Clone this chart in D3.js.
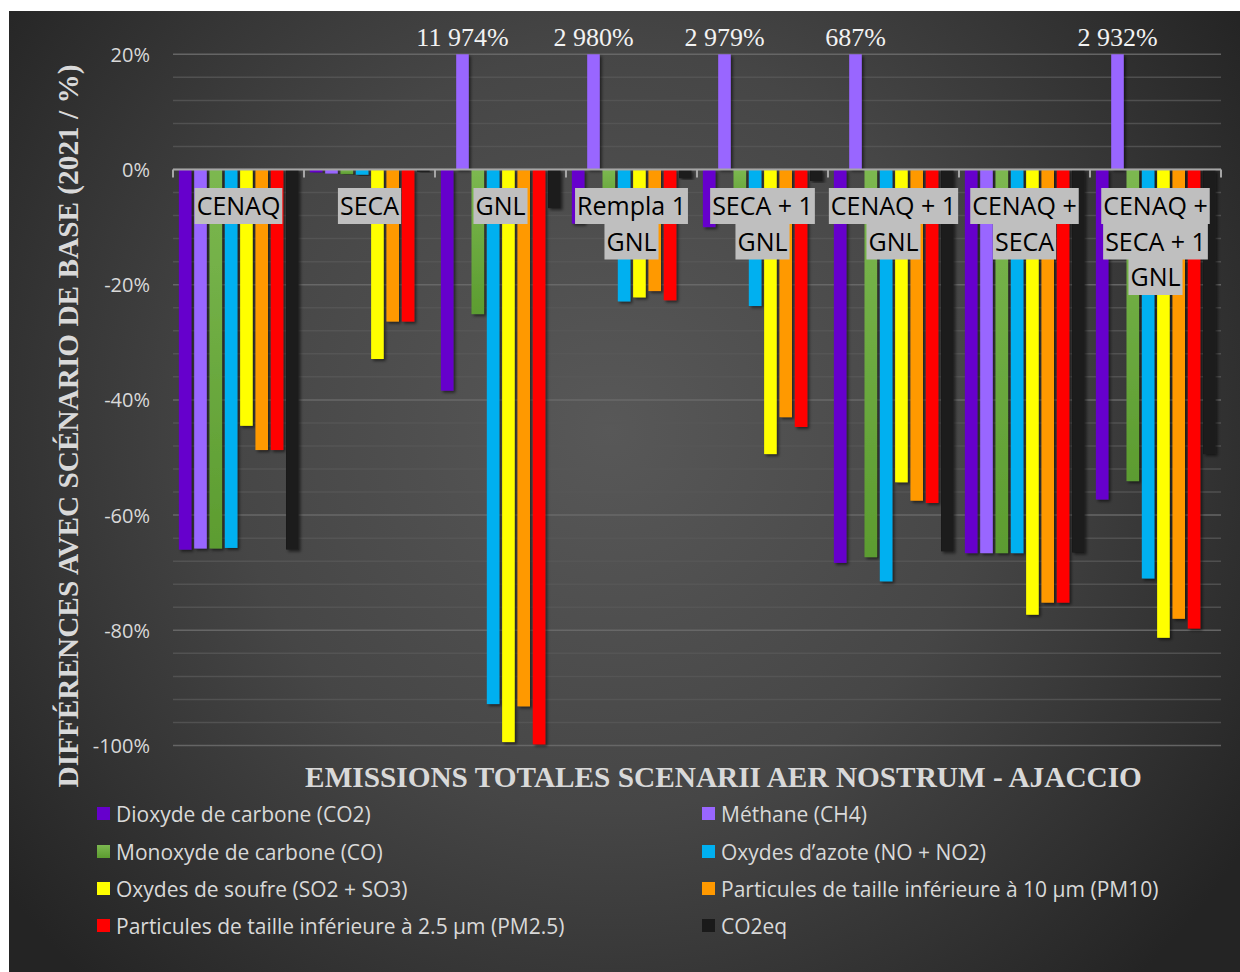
<!DOCTYPE html>
<html>
<head>
<meta charset="utf-8">
<script src="https://cdn.jsdelivr.net/npm/d3@7"></script>
<style>
  html, body { margin: 0; padding: 0; background: #ffffff; }
  svg { display: block; }
</style>
</head>
<body>
<svg id="chart" width="1240" height="972"></svg>
<script>
// Scenarios (x categories) and how their labels wrap
const categories = ["CENAQ", "SECA", "GNL", "Rempla 1 GNL", "SECA + 1 GNL",
  "CENAQ + 1 GNL", "CENAQ + SECA", "CENAQ + SECA + 1 GNL"];
const categoryLines = [["CENAQ"], ["SECA"], ["GNL"], ["Rempla 1", "GNL"], ["SECA + 1", "GNL"],
  ["CENAQ + 1", "GNL"], ["CENAQ +", "SECA"], ["CENAQ +", "SECA + 1", "GNL"]];

// Pollutants (series)
const seriesNames = [
  "Dioxyde de carbone (CO2)",
  "Méthane (CH4)",
  "Monoxyde de carbone (CO)",
  "Oxydes d’azote (NO + NO2)",
  "Oxydes de soufre (SO2 + SO3)",
  "Particules de taille inférieure à 10 µm (PM10)",
  "Particules de taille inférieure à 2.5 µm (PM2.5)",
  "CO2eq"
];
const seriesColors = ["#6600cc", "#9966ff", "#70ad47", "#00b0f0", "#ffff00", "#ff9900", "#ff0000", "#1a1a1a"];

// Difference vs. base scenario 2021, in %, one value per scenario
const co2   = [-66.0, -0.5, -38.4,  -9.4, -10.0, -68.3, -66.6, -57.3];
const ch4   = [-65.8, -0.7, 11974,  2980,  2979,   687, -66.6,  2932];
const co    = [-65.8, -0.8, -25.1,  -7.0,  -7.0, -67.3, -66.6, -54.1];
const nox   = [-65.7, -0.9, -92.8, -22.9, -23.7, -71.5, -66.6, -71.0];
const sox   = [-44.5, -32.9, -99.4, -22.2, -49.4, -54.3, -77.3, -81.3];
const pm10  = [-48.7, -26.4, -93.2, -21.1, -43.0, -57.5, -75.2, -78.0];
const pm25  = [-48.7, -26.4, -99.8, -22.7, -44.7, -57.9, -75.2, -79.7];
const co2eq = [-66.0, -0.4,  -6.7,  -1.5,  -2.0, -66.3, -66.5, -49.4];
const seriesValues = [co2, ch4, co, nox, sox, pm10, pm25, co2eq];

const yTicks = [20, 0, -20, -40, -60, -80, -100];
const yDomain = [-100, 20];

const axisTitle = "DIFFÉRENCES AVEC SCÉNARIO DE BASE (2021 / %)";
const chartTitle = "EMISSIONS TOTALES SCENARII AER NOSTRUM - AJACCIO";

const W = 1240, H = 972;
const svg = d3.select("#chart");
const defs = svg.append("defs");

// Dark radial background
const bg = defs.append("radialGradient").attr("id", "bgGrad")
  .attr("gradientUnits", "userSpaceOnUse")
  .attr("cx", 610).attr("cy", 430).attr("r", 760);
bg.append("stop").attr("offset", 0).attr("stop-color", "#585858");
bg.append("stop").attr("offset", 0.5).attr("stop-color", "#464646");
bg.append("stop").attr("offset", 1).attr("stop-color", "#242424");

// Green bars carry a light-to-dark vertical gradient
const gGreen = defs.append("linearGradient").attr("id", "greenGrad")
  .attr("x1", 0).attr("y1", 0).attr("x2", 0).attr("y2", 1);
gGreen.append("stop").attr("offset", 0).attr("stop-color", "#7cb850");
gGreen.append("stop").attr("offset", 1).attr("stop-color", "#5c9c30");

const shadow = defs.append("filter").attr("id", "barShadow")
  .attr("x", "-50%").attr("y", "-10%").attr("width", "200%").attr("height", "120%");
shadow.append("feDropShadow").attr("dx", 2).attr("dy", 2).attr("stdDeviation", 1.8)
  .attr("flood-color", "#000").attr("flood-opacity", 0.55);

svg.append("rect").attr("x", 9).attr("y", 11).attr("width", W - 9).attr("height", H - 11)
  .attr("fill", "url(#bgGrad)");

const plot = { left: 173, right: 1221, top: 54.3, bottom: 745.5 };
const x0 = d3.scaleBand().domain(categories).range([plot.left, plot.right]);
const x1 = d3.scaleBand().domain(seriesNames).range([4.5, x0.bandwidth() - 4])
  .paddingInner(0.18).paddingOuter(0.09);
const y = d3.scaleLinear().domain(yDomain).range([plot.bottom, plot.top]);

// Gridlines: minor every 4 %, major every 20 %
const grid = svg.append("g");
d3.range(yDomain[0], yDomain[1] + 0.01, 4).forEach(v => {
  const major = Math.abs(v % 20) < 1e-9;
  grid.append("line")
    .attr("x1", plot.left).attr("x2", plot.right)
    .attr("y1", y(v)).attr("y2", y(v))
    .attr("stroke", major ? "#6a6a6a" : "#585858")
    .attr("stroke-opacity", major ? 0.9 : 0.8)
    .attr("stroke-width", 1.5);
});

// Bars
const clampV = v => Math.max(yDomain[0], Math.min(yDomain[1], v));
const bars = svg.append("g");
categories.forEach((cat, i) => {
  seriesNames.forEach((name, j) => {
    const v = clampV(seriesValues[j][i]);
    bars.append("rect")
      .attr("x", x0(cat) + x1(name))
      .attr("y", y(Math.max(0, v)))
      .attr("width", x1.bandwidth())
      .attr("height", Math.abs(y(v) - y(0)))
      .attr("fill", j === 2 ? "url(#greenGrad)" : seriesColors[j])
      .attr("filter", "url(#barShadow)");
  });
});

// Zero axis with category ticks
const axis = svg.append("g");
axis.append("line").attr("x1", plot.left).attr("x2", plot.right)
  .attr("y1", y(0)).attr("y2", y(0)).attr("stroke", "#a6a6a6").attr("stroke-width", 2);
const bounds = categories.map(c => x0(c)).concat([plot.right]);
bounds.forEach(bx => {
  axis.append("line").attr("x1", bx).attr("x2", bx)
    .attr("y1", y(0)).attr("y2", y(0) + 8)
    .attr("stroke", "#a6a6a6").attr("stroke-width", 2);
});

// Y tick labels
const fmtTick = d => d + "%";
svg.append("g").selectAll("text").data(yTicks).join("text")
  .attr("x", 150).attr("y", d => y(d))
  .attr("text-anchor", "end").attr("dominant-baseline", "central")
  .attr("font-family", "'Open Sans', sans-serif").attr("font-size", 20)
  .attr("fill", "#d9d9d9")
  .text(fmtTick);

// Category labels on grey boxes, just below the zero line
const labG = svg.append("g");
const boxG = labG.append("g"), txtG = labG.append("g");
categories.forEach((cat, i) => {
  const cx = x0(cat) + x0.bandwidth() / 2;
  categoryLines[i].forEach((line, k) => {
    const base = 215 + k * 35.5;
    const t = txtG.append("text")
      .attr("x", cx).attr("y", base).attr("text-anchor", "middle")
      .attr("font-family", "'Open Sans', sans-serif").attr("font-size", 25)
      .attr("fill", "#000").text(line);
    const w = t.node().getComputedTextLength();
    boxG.append("rect")
      .attr("x", cx - w / 2 - 2).attr("y", base - 27)
      .attr("width", w + 4).attr("height", 36)
      .attr("fill", "#bfbfbf");
  });
});

// Value labels for bars beyond the top of the axis
const frLocale = d3.formatLocale({ decimal: ",", thousands: " ", grouping: [3], currency: ["", " €"] });
const fmtVal = frLocale.format(",.0f");
const valG = svg.append("g");
categories.forEach((cat, i) => {
  seriesNames.forEach((name, j) => {
    const v = seriesValues[j][i];
    if (v > yDomain[1]) {
      valG.append("text")
        .attr("x", x0(cat) + x1(name) + x1.bandwidth() / 2)
        .attr("y", 46)
        .attr("text-anchor", "middle")
        .attr("font-family", "'Liberation Serif', 'Times New Roman', serif")
        .attr("font-size", 26).attr("fill", "#f2f2f2")
        .text(fmtVal(v) + "%");
    }
  });
});

// Axis titles
svg.append("text")
  .attr("transform", "translate(78,426) rotate(-90)")
  .attr("text-anchor", "middle")
  .attr("font-family", "'Liberation Serif', 'Times New Roman', serif")
  .attr("font-weight", "bold").attr("font-size", 29.3)
  .attr("fill", "#d9d9d9").text(axisTitle);

svg.append("text")
  .attr("x", 723.5).attr("y", 787)
  .attr("text-anchor", "middle")
  .attr("font-family", "'Liberation Serif', 'Times New Roman', serif")
  .attr("font-weight", "bold").attr("font-size", 29.3)
  .attr("fill", "#d9d9d9").text(chartTitle);

// Legend: two columns, four rows
const legend = svg.append("g");
const colX = [97, 702], rowY = [814, 852, 889, 926];
seriesNames.forEach((name, j) => {
  const cx = colX[j % 2], cy = rowY[Math.floor(j / 2)];
  legend.append("rect").attr("x", cx).attr("y", cy - 7).attr("width", 13).attr("height", 13)
    .attr("fill", j === 2 ? "url(#greenGrad)" : seriesColors[j]);
  legend.append("text").attr("x", cx + 19).attr("y", cy)
    .attr("dominant-baseline", "central")
    .attr("font-family", "'Open Sans', sans-serif").attr("font-size", 21)
    .attr("fill", "#d9d9d9").text(name);
});
</script>
</body>
</html>
